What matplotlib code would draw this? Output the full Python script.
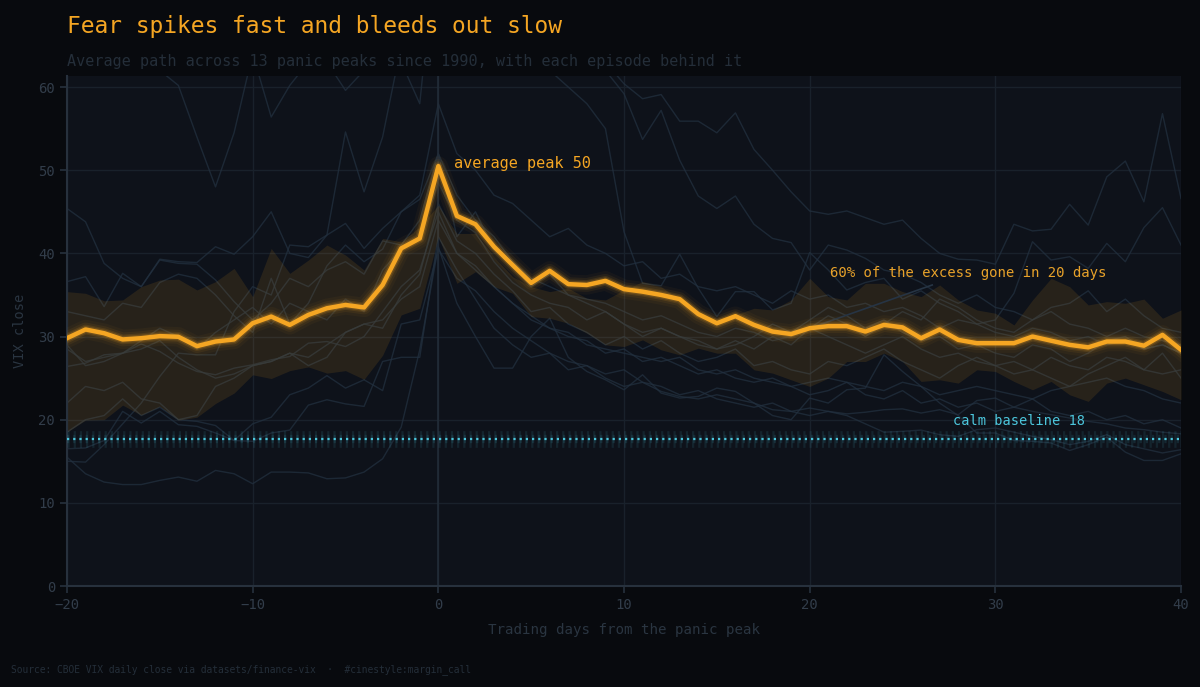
import numpy as np
import matplotlib.pyplot as plt

plt.rcParams['font.family'] = ['DejaVu Sans Mono']

days = np.arange(-20, 41)

# average path across episodes
mean_path = [29.8, 30.85, 30.4, 29.65, 29.8, 30.05, 29.97, 28.85, 29.4, 29.65,
             31.6, 32.4, 31.4, 32.6, 33.4, 33.8, 33.5, 36.2, 40.6, 41.8,
             50.5,
             44.5, 43.5, 40.8, 38.6, 36.45, 37.9, 36.3, 36.2, 36.7, 35.7,
             35.4, 35.0, 34.5, 32.7, 31.6, 32.45, 31.4, 30.6, 30.3, 31.0,
             31.25, 31.25, 30.6, 31.4, 31.1, 29.8, 30.85, 29.6, 29.2, 29.2,
             29.2, 30.0, 29.5, 29.0, 28.7, 29.4, 29.4, 28.9, 30.2, 28.4]

# inter-quartile band
band_hi = [35.4, 35.2, 34.3, 34.4, 36.0, 36.8, 36.9, 35.6, 36.6, 38.2,
           34.8, 40.6, 37.6, 39.2, 41.0, 39.8, 38.0, 41.8, 41.4, 43.2,
           45.8,
           42.4, 42.4, 39.6, 37.2, 36.0, 35.4, 35.8, 34.6, 34.4, 35.6,
           36.6, 36.0, 34.4, 32.6, 32.2, 32.6, 33.4, 33.2, 34.4, 37.0,
           34.8, 34.4, 36.4, 36.4, 35.4, 34.8, 36.2, 34.4, 33.2, 32.8,
           31.4, 34.4, 37.0, 36.0, 33.8, 34.2, 34.0, 34.5, 32.2, 33.2]
band_lo = [18.5, 19.95, 20.0, 21.75, 20.55, 21.6, 19.95, 20.3, 21.95, 23.2,
           25.4, 24.95, 25.9, 26.35, 25.6, 25.9, 24.85, 27.75, 32.6, 33.4,
           42.0,
           36.4, 37.8, 36.0, 35.2, 32.4, 32.2, 31.6, 30.4, 29.0, 28.8,
           29.6, 28.4, 27.8, 28.6, 28.0, 28.0, 26.0, 25.6, 24.8, 24.0,
           25.0, 27.0, 27.0, 28.0, 27.0, 24.6, 24.8, 24.4, 26.0, 25.8,
           24.6, 23.6, 24.6, 23.0, 22.2, 24.4, 25.0, 24.2, 23.4, 22.4]

# individual panic episodes (VIX close, day -20 .. +40)
ep01 = [15.5, 13.5, 12.5, 12.2, 12.2, 12.7, 13.1, 12.6, 13.9, 13.5,
        12.3, 13.7, 13.7, 13.6, 12.9, 13.0, 13.7, 15.3, 19.1, 28.4,
        40.8,
        34.0, 30.0, 26.2, 26.2, 30.0, 32.2, 27.5, 25.8, 24.8, 23.6,
        25.4, 23.2, 22.6, 22.8, 23.8, 23.4, 22.0, 21.2, 21.0, 21.4,
        21.0, 20.7, 20.9, 21.2, 21.3, 20.8, 21.2, 20.6, 22.3, 22.6,
        21.5, 21.0, 20.6, 20.2, 19.8, 19.5, 19.0, 18.8, 18.5, 18.3]
ep02 = [16.5, 16.6, 17.5, 21.0, 19.6, 21.0, 19.4, 19.2, 18.4, 17.5,
        17.4, 18.4, 18.75, 21.75, 22.4, 21.9, 21.6, 27.0, 27.5, 27.5,
        42.0,
        38.0, 34.5, 31.0, 29.0, 27.5, 28.0, 26.0, 26.5, 25.0, 24.0,
        24.5, 23.4, 22.8, 22.5, 23.0, 22.5, 22.0, 20.5, 20.0, 22.6,
        22.0, 23.6, 23.8, 27.8, 25.8, 24.0, 22.0, 20.5, 18.4, 18.4,
        17.5, 17.4, 17.2, 16.3, 17.0, 17.9, 16.1, 15.1, 15.1, 15.9]
ep03 = [26.4, 26.8, 27.8, 28.0, 29.1, 28.2, 26.8, 25.8, 25.4, 26.2,
        26.6, 27.2, 27.6, 29.2, 29.4, 28.8, 30.0, 33.0, 36.0, 38.0,
        45.0,
        40.0, 38.0, 36.0, 34.0, 32.0, 31.0, 30.5, 29.0, 28.5, 28.0,
        27.5, 27.0, 27.5, 26.0, 25.5, 26.0, 25.0, 24.5, 24.0, 24.5,
        25.0, 24.5, 24.0, 23.5, 24.5, 24.0, 23.0, 23.5, 24.0, 23.5,
        23.0, 22.5, 23.5, 24.0, 24.5, 25.0, 24.0, 23.5, 22.5, 22.0]
ep04 = [45.4, 43.8, 38.8, 37.0, 36.0, 39.2, 38.8, 38.7, 36.8, 34.2,
        32.0, 34.0, 37.0, 36.0, 38.0, 39.0, 37.5, 41.5, 41.0, 44.0,
        52.0,
        47.0, 44.0, 42.0, 39.0, 37.0, 36.0, 35.0, 34.0, 33.0, 31.5,
        30.0, 31.0, 30.0, 29.0, 28.5, 29.5, 28.5, 30.0, 29.0, 31.0,
        30.0, 29.0, 28.0, 29.0, 30.0, 28.5, 27.5, 28.0, 27.0, 26.5,
        27.0, 26.0, 27.5, 26.5, 26.0, 27.5, 27.0, 26.0, 25.5, 26.0]
ep05 = [36.6, 37.2, 33.6, 37.6, 36.0, 39.3, 39.0, 38.9, 40.8, 39.9,
        42.0, 45.0, 40.0, 39.5, 42.2, 43.6, 40.6, 43.0, 45.0, 47.0,
        58.0,
        52.0, 50.0, 47.0, 46.0, 44.0, 42.0, 43.0, 41.0, 40.0, 38.5,
        39.0, 37.0, 37.5, 36.0, 35.5, 36.0, 35.0, 34.0, 35.5, 34.5,
        35.0, 33.5, 34.0, 33.0, 33.5, 32.5, 31.0, 32.0, 31.5, 30.5,
        30.0, 31.0, 30.5, 29.5, 30.0, 29.0, 29.5, 28.5, 29.0, 28.0]
ep06 = [68.0, 67.0, 66.0, 65.0, 63.0, 62.0, 60.2, 54.0, 48.0, 54.5,
        64.0, 56.4, 60.2, 63.0, 65.0, 64.0, 66.0, 70.0, 74.0, 78.0,
        89.0,
        80.0, 76.0, 72.0, 70.0, 68.0, 66.0, 65.0, 64.0, 62.0, 59.2,
        53.7, 57.2, 51.2, 46.9, 45.4, 46.9, 43.5, 41.8, 41.3, 38.0,
        41.0, 40.4, 39.4, 38.0, 37.5, 36.5, 35.0, 34.0, 35.0, 33.5,
        33.0, 32.0, 33.0, 31.5, 31.0, 30.0, 31.0, 30.0, 29.5, 29.0]
ep07 = [70.0, 69.0, 70.0, 68.0, 67.0, 66.0, 67.0, 65.0, 66.0, 64.0,
        65.0, 63.0, 64.0, 62.0, 63.0, 59.6, 62.0, 64.0, 63.0, 58.0,
        80.0,
        76.0, 74.0, 72.0, 69.0, 66.0, 65.0, 64.0, 62.0, 63.0, 60.4,
        58.6, 59.1, 55.9, 55.9, 54.5, 56.9, 52.5, 50.0, 47.4, 45.1,
        44.7, 45.1, 44.3, 43.5, 44.0, 41.8, 40.0, 39.3, 39.2, 38.7,
        43.5, 42.7, 42.9, 45.9, 43.4, 49.2, 51.1, 46.2, 56.8, 46.6]
ep08 = [15.0, 14.9, 17.0, 19.5, 22.0, 25.2, 28.0, 27.8, 27.8, 33.0,
        36.0, 35.0, 41.0, 40.8, 42.2, 54.6, 47.4, 54.0, 65.0, 75.0,
        82.0,
        76.0, 72.0, 75.0, 68.0, 66.0, 62.0, 60.0, 58.0, 55.0, 42.6,
        36.4, 36.1, 39.9, 35.8, 32.4, 35.4, 35.4, 33.2, 34.0, 40.1,
        38.0, 35.6, 36.5, 37.0, 34.5, 35.5, 34.0, 33.0, 31.5, 32.0,
        35.2, 41.4, 39.2, 39.6, 38.2, 41.2, 39.0, 43.1, 45.5, 41.0]
ep09 = [28.5, 27.0, 27.5, 28.0, 29.5, 31.0, 30.0, 28.5, 30.5, 32.0,
        33.5, 31.5, 34.0, 33.0, 32.0, 34.5, 33.0, 38.0, 40.5, 42.0,
        48.5,
        44.0, 42.5, 39.0, 36.5, 35.0, 34.0, 33.5, 32.0, 33.0, 31.5,
        30.5, 31.0, 30.0, 29.5, 28.5, 29.0, 30.0, 31.5, 30.5, 32.0,
        33.5, 32.5, 31.0, 32.0, 30.5, 29.5, 30.0, 28.5, 29.0, 28.0,
        27.5, 29.0, 28.5, 27.0, 28.0, 29.5, 30.0, 28.5, 29.0, 28.0]
ep10 = [22.0, 24.0, 23.5, 24.5, 22.5, 22.0, 20.0, 20.5, 24.0, 25.0,
        26.5, 27.0, 28.0, 27.5, 29.0, 30.5, 31.5, 32.0, 34.5, 36.0,
        44.0,
        40.0, 38.5, 36.0, 34.0, 32.5, 31.0, 30.0, 29.5, 28.0, 28.5,
        27.0, 27.5, 26.5, 25.5, 26.0, 25.0, 24.5, 25.0, 24.0, 23.0,
        23.5, 24.5, 23.0, 22.5, 23.5, 22.0, 22.5, 21.5, 22.0, 21.0,
        21.5, 22.5, 21.0, 20.5, 21.0, 20.0, 20.5, 19.5, 20.0, 19.0]
ep11 = [33.0, 32.5, 32.0, 34.0, 33.5, 36.5, 37.5, 37.0, 35.0, 32.5,
        30.5, 37.0, 31.5, 34.0, 38.5, 41.0, 39.0, 40.5, 45.0, 46.5,
        52.0,
        42.0, 45.0, 40.5, 38.5, 36.0, 37.5, 35.0, 34.5, 34.0, 33.0,
        32.0, 32.5, 31.5, 30.5, 30.0, 31.0, 30.5, 29.5, 30.0, 31.0,
        32.5, 31.5, 30.0, 31.5, 33.0, 32.0, 34.5, 33.5, 32.0, 31.0,
        30.5, 32.0, 33.5, 34.0, 35.5, 33.0, 34.5, 32.5, 31.0, 30.5]
ep12 = [18.5, 20.0, 20.5, 22.5, 20.5, 21.5, 20.0, 19.8, 19.3, 17.5,
        19.5, 20.3, 23.0, 23.8, 25.3, 23.8, 24.8, 23.5, 31.5, 32.0,
        40.5,
        37.0, 35.5, 33.0, 31.0, 29.5, 28.0, 27.0, 26.5, 25.5, 26.0,
        24.5, 24.0, 23.0, 23.5, 22.5, 22.0, 21.5, 22.0, 21.0, 20.5,
        21.0, 20.5, 19.5, 18.5, 18.6, 18.75, 18.2, 18.0, 18.8, 19.0,
        18.5, 18.0, 17.6, 17.0, 17.4, 18.2, 17.0, 16.5, 16.0, 16.4]
ep13 = [29.0, 26.5, 27.0, 28.0, 28.5, 29.5, 27.5, 26.0, 25.0, 25.5,
        26.5, 27.0, 28.0, 26.5, 27.5, 30.5, 31.5, 31.0, 35.0, 37.5,
        46.0,
        41.5, 40.0, 37.5, 35.5, 33.0, 33.5, 31.5, 30.5, 29.0, 30.0,
        28.5, 29.5, 28.0, 27.0, 27.5, 28.5, 26.5, 27.0, 26.0, 25.5,
        27.0, 26.5, 27.5, 28.5, 27.0, 26.0, 25.0, 26.5, 27.5, 26.5,
        25.5, 26.0, 25.0, 24.0, 25.5, 26.5, 27.5, 26.0, 28.0, 25.0]
episodes = [ep01, ep02, ep03, ep04, ep05, ep06, ep07, ep08, ep09, ep10, ep11, ep12, ep13]

baseline = 17.7

BG = '#080a0e'
PANEL = '#0e121a'
ORANGE = '#f5a623'
CYAN = '#4cc6dc'
DIM = '#2a3541'
TICK = '#323d4a'

fig = plt.figure(figsize=(12, 6.87), dpi=100, facecolor=BG)
ax = fig.add_axes([0.0558, 0.147, 0.9284, 0.742])
ax.set_facecolor(PANEL)

for ep in episodes:
    ax.plot(days, ep, color='#22303f', lw=1.0, alpha=0.75, zorder=1)

ax.fill_between(days, band_lo, band_hi, color=ORANGE, alpha=0.11, lw=0, zorder=2)

ax.axvline(0, color='#222c38', lw=1.2, zorder=1.5)

# calm baseline, dotted with glow
ax.axhline(baseline, color=CYAN, lw=12, ls=(0, (0.133, 0.238)), alpha=0.1, zorder=3)
ax.axhline(baseline, color=CYAN, lw=6, ls=(0, (0.267, 0.477)), alpha=0.12, zorder=3)
ax.axhline(baseline, color=CYAN, lw=1.6, ls=(0, (1, 1.79)), zorder=3.1)

# average path with glow
for w, a in [(14, 0.04), (10, 0.07), (7, 0.12), (5, 0.2)]:
    ax.plot(days, mean_path, color=ORANGE, lw=w, alpha=a, solid_joinstyle='round', zorder=4)
ax.plot(days, mean_path, color=ORANGE, lw=3.2, solid_joinstyle='round', zorder=5)

peak_i = int(np.argmax(mean_path))
ax.text(days[peak_i] + 0.85, mean_path[peak_i] + 0.3, 'average peak %d' % round(mean_path[peak_i]),
        color=ORANGE, fontsize=11, va='center', ha='left', zorder=6)

d20 = list(days).index(20)
ax.plot([20, 26.6], [mean_path[d20], 36.2], color='#263444', lw=1.2, zorder=3)
ax.text(21.1, 37.7, '60% of the excess gone in 20 days', color='#e8a22a',
        fontsize=10.1, va='center', ha='left', zorder=6)
ax.text(27.7, 19.8, 'calm baseline %d' % round(baseline), color=CYAN,
        fontsize=9.8, va='center', ha='left', zorder=6)

ax.set_xlim(-20, 40)
ax.set_ylim(0, 61.3)
ax.set_xticks(np.arange(-20, 41, 10))
ax.set_yticks(np.arange(0, 61, 10))
ax.grid(True, color='#19212b', lw=1)
ax.set_axisbelow(True)
for s in ['top', 'right']:
    ax.spines[s].set_visible(False)
for s in ['left', 'bottom']:
    ax.spines[s].set_color('#27313d')
    ax.spines[s].set_linewidth(1.5)
ax.tick_params(colors='#27313d', labelcolor=TICK, labelsize=10, length=5, width=1.2)

ax.set_xlabel('Trading days from the panic peak', color=DIM, fontsize=10.2, labelpad=8)
ax.set_ylabel('VIX close', color=DIM, fontsize=9.8, labelpad=8)

fig.text(0.056, 0.962, 'Fear spikes fast and bleeds out slow', color=ORANGE,
         fontsize=16.5, va='center', ha='left')
fig.text(0.056, 0.911, 'Average path across 13 panic peaks since 1990, with each episode behind it',
         color='#242e39', fontsize=10.9, va='center', ha='left')
fig.text(0.009, 0.025, 'Source: CBOE VIX daily close via datasets/finance-vix  \u00b7  #cinestyle:margin_call',
         color='#242e39', fontsize=6.9, va='center', ha='left')

fig.savefig('out.png', dpi=100, facecolor=BG)
